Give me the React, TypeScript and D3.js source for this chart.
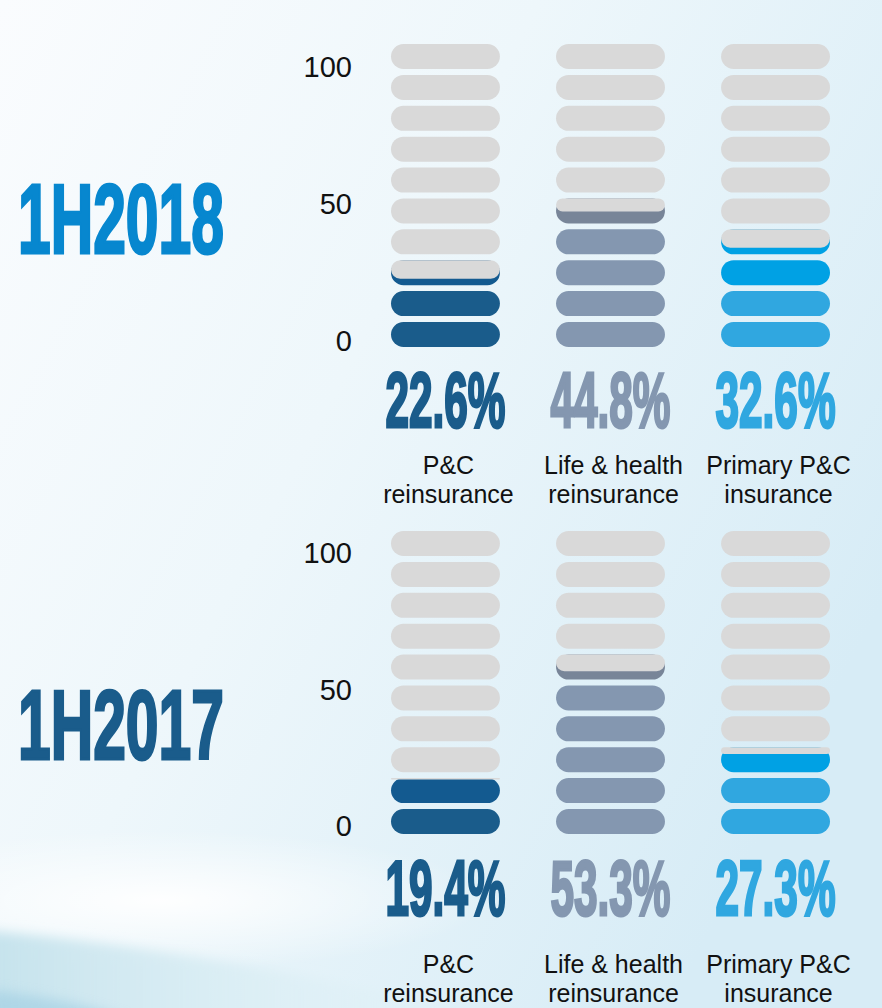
import React from 'react';
import { scaleBand, scaleLinear, range } from 'd3';

// values
const categories = [
  ['P&C', 'reinsurance'],
  ['Life & health', 'reinsurance'],
  ['Primary P&C', 'insurance'],
];
const periods = ['1H2018', '1H2017'];
const shares2018 = [22.6, 44.8, 32.6];
const shares2017 = [19.4, 53.3, 27.3];
const yTicks = [0, 50, 100];
const pillCount = 10;

const fullColors = ['#1a5c8b', '#8497b0', '#30a7e0'];
const partialColors = ['#135a90', '#788598', '#00a1e4'];
const accentFrom = [99, 99, 2];
const titleColors = ['#0787cf', '#1a5c8b'];
const emptyColor = '#d9d9d9';

const W = 882;
const H = 1008;

const panels = [
  { shares: shares2018, pill: [347, 44], axis: [341, 67], pctY: 427, catY: 474, titleY: 253 },
  { shares: shares2017, pill: [834, 531], axis: [826, 553], pctY: 915, catY: 973, titleY: 759 },
];

const sans = "'Liberation Sans', Arial, sans-serif";

function Column({ value, ci, x, w, yPill }) {
  const h = yPill.bandwidth();
  const full = Math.floor(value / 10);
  const frac = (value - full * 10) / 10;
  return (
    <g>
      {range(pillCount).map((i) => {
        const y = yPill(i);
        let fill = emptyColor;
        if (i < full) fill = i >= accentFrom[ci] ? partialColors[ci] : fullColors[ci];
        if (i === full && frac > 0) fill = partialColors[ci];
        const cover = (1 - frac) * h;
        return (
          <g key={i}>
            <rect x={x} y={y} width={w} height={h} rx={h / 2} fill={fill} />
            {i === full && frac > 0 && (
              <rect x={x} y={y} width={w} height={cover} rx={Math.min(h / 2, cover / 2)} fill={emptyColor} />
            )}
          </g>
        );
      })}
    </g>
  );
}

export default function App() {
  const x = scaleBand().domain(range(categories.length)).range([391, 830]).paddingInner(0.34);

  return (
    <svg width={W} height={H} style={{ position: 'absolute', left: 0, top: 0 }}>
      <defs>
        <linearGradient id="bg" x1="0" y1="0" x2="1" y2="0.6">
          <stop offset="0" stopColor="#fafcfe" />
          <stop offset="0.45" stopColor="#eef7fb" />
          <stop offset="1" stopColor="#d7ecf6" />
        </linearGradient>
        <linearGradient id="swoosh" x1="0" y1="0" x2="1" y2="0">
          <stop offset="0" stopColor="#c4e2ec" />
          <stop offset="0.6" stopColor="#dceff5" stopOpacity="0.6" />
          <stop offset="1" stopColor="#e4f2f8" stopOpacity="0" />
        </linearGradient>
        <radialGradient id="glow" cx="0.5" cy="0.5" r="0.5">
          <stop offset="0" stopColor="#ffffff" stopOpacity="0.95" />
          <stop offset="1" stopColor="#ffffff" stopOpacity="0" />
        </radialGradient>
        <filter id="soft" x="-20%" y="-50%" width="140%" height="200%">
          <feGaussianBlur stdDeviation="6" />
        </filter>
      </defs>
      <rect width={W} height={H} fill="url(#bg)" />
      <ellipse cx={160} cy={900} rx={330} ry={70} fill="url(#glow)" />
      <path d="M-20,930 C150,945 330,975 540,1030 L-20,1030 Z" fill="url(#swoosh)" filter="url(#soft)" />
      <path d="M-10,990 C40,996 80,1002 130,1020 L-10,1020 Z" fill="#9fcde2" opacity={0.6} filter="url(#soft)" />

      {panels.map((p, pi) => {
        const yPill = scaleBand().domain(range(pillCount)).range(p.pill).paddingInner(0.19);
        const yAxis = scaleLinear().domain([0, 100]).range(p.axis);
        return (
          <g key={pi}>
            <text
              transform={`translate(18,${p.titleY}) scale(0.6,1)`}
              fontFamily={sans}
              fontWeight="bold"
              fontSize={98}
              fill={titleColors[pi]}
              stroke={titleColors[pi]}
              strokeWidth={3}
            >
              {periods[pi]}
            </text>
            {yTicks.map((t) => (
              <text
                key={t}
                x={352}
                y={yAxis(t)}
                dy="0.36em"
                textAnchor="end"
                fontFamily={sans}
                fontSize={29}
                fill="#111"
              >
                {t}
              </text>
            ))}
            {p.shares.map((v, ci) => {
              const cx = x(ci) + x.bandwidth() / 2;
              return (
                <g key={ci}>
                  <Column value={v} ci={ci} x={x(ci)} w={x.bandwidth()} yPill={yPill} />
                  <text
                    transform={`translate(${cx},${p.pctY}) scale(0.55,1)`}
                    textAnchor="middle"
                    fontFamily={sans}
                    fontWeight="bold"
                    fontSize={77}
                    fill={fullColors[ci]}
                    stroke={fullColors[ci]}
                    strokeWidth={3}
                  >
                    {v.toFixed(1)}%
                  </text>
                  {categories[ci].map((line, li) => (
                    <text
                      key={li}
                      x={cx + 3}
                      y={p.catY + li * 29}
                      textAnchor="middle"
                      fontFamily={sans}
                      fontSize={25}
                      fill="#111"
                    >
                      {line}
                    </text>
                  ))}
                </g>
              );
            })}
          </g>
        );
      })}
    </svg>
  );
}
